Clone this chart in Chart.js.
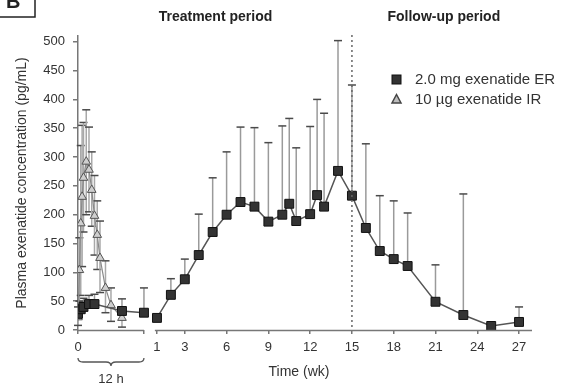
<!DOCTYPE html>
<html>
<head>
<meta charset="utf-8">
<script src="https://cdn.jsdelivr.net/npm/chart.js@4.4.1/dist/chart.umd.min.js"></script>
<style>
    body { margin: 0; background: #fff; }
    #wrap { position: relative; width: 568px; height: 392px; }
</style>
</head>
<body>
<div id="wrap"><canvas id="pkChart"></canvas></div>
<script>
// first 12 h after a single dose (hours)
const erHours = [0, 0.5, 1, 2, 3, 8, 12]
const erHourValues = [28, 36, 40, 45, 45, 33, 30]
const erHourUpper = [null, 50, 55, 60, 62, 54, 73]

const irHours = [0, 0.25, 0.5, 0.75, 1, 1.5, 2, 2.5, 3, 3.5, 4, 5, 6, 8]
const irValues = [22, 104, 185, 231, 264, 292, 278, 243, 198, 165, 125, 73, 43, 21]
const irUpper = [40, 160, 320, 355, 360, 382, 352, 309, 268, 224, 189, 120, 73, 40]
const irLower = [8, 50, 60, 110, 170, 200, 205, 180, 130, 105, 65, 30, 15, 5]

// weekly profile (weeks)
const erWeeks = [1, 2, 3, 4, 5, 6, 7, 8, 9, 10, 10.5, 11, 12, 12.5, 13, 14, 15, 16, 17, 18, 19, 21, 23, 25, 27]
const erWeekValues = [21, 61, 88, 130, 170, 200, 222, 214, 188, 200, 219, 189, 201, 234, 214, 276, 233, 177, 137, 123, 111, 49, 26, 7, 14]
const erWeekUpper = [null, 89, 123, 201, 264, 309, 352, 351, 325, 354, 367, 316, 353, 400, 376, 502, 425, 323, 233, 224, 203, 113, 236, null, 40]

// axis ticks
const hourTicks = [0, 12]
const weekTicks = [1, 3, 6, 9, 12, 15, 18, 21, 24, 27]
const yTicks = [0, 50, 100, 150, 200, 250, 300, 350, 400, 450, 500]
const doseEndWeek = 15

const legendLabels = ["2.0 mg exenatide ER", "10 \u00b5g exenatide IR"]
const periodLabels = ["Treatment period", "Follow-up period"]

Chart.defaults.font.family = '"Liberation Sans", Arial, sans-serif'
Chart.defaults.color = "#333"

const toPoints = (xs, ys) => xs.map((x, i) => ({ x: x, y: ys[i] }))

// error bars, drawn under the markers
const errorBars = {
    id: "errorBars",
    beforeDatasetsDraw(chart) {
        const ctx = chart.ctx
        chart.data.datasets.forEach((ds, i) => {
            if (!ds.upper) return
            const meta = chart.getDatasetMeta(i)
            const xs = meta.xScale
            const ys = meta.yScale
            ds.data.forEach((p, j) => {
                const x = xs.getPixelForValue(p.x)
                const yMid = ys.getPixelForValue(p.y)
                const hi = ds.upper[j]
                const lo = ds.lower ? ds.lower[j] : null
                ctx.save()
                ctx.lineWidth = 1.5
                ;[hi, lo].forEach((v) => {
                    if (v == null) return
                    const yEnd = ys.getPixelForValue(v)
                    ctx.strokeStyle = ds.barColor
                    ctx.beginPath()
                    ctx.moveTo(x, yMid)
                    ctx.lineTo(x, yEnd)
                    ctx.stroke()
                    ctx.strokeStyle = "#4a4a4a"
                    ctx.beginPath()
                    ctx.moveTo(x - 4, yEnd)
                    ctx.lineTo(x + 4, yEnd)
                    ctx.stroke()
                })
                ctx.restore()
            })
        })
    },
}

// broken axis lines, dose line, brace, titles, legend
const decorations = {
    id: "decorations",
    afterDraw(chart) {
        const ctx = chart.ctx
        const h = chart.scales.h
        const w = chart.scales.w
        const area = chart.chartArea
        const axisY = area.bottom + 0.5

        ctx.save()
        ctx.strokeStyle = "#777"
        ctx.lineWidth = 1.5
        ctx.beginPath()
        ctx.moveTo(h.getPixelForValue(0), axisY)
        ctx.lineTo(h.getPixelForValue(12), axisY)
        ctx.moveTo(w.getPixelForValue(0.85), axisY)
        ctx.lineTo(area.right, axisY)
        ctx.stroke()

        // end of dosing
        const xd = w.getPixelForValue(doseEndWeek)
        ctx.strokeStyle = "#666"
        ctx.setLineDash([2, 3])
        ctx.beginPath()
        ctx.moveTo(xd, area.top - 1)
        ctx.lineTo(xd, area.bottom)
        ctx.stroke()
        ctx.setLineDash([])

        // brace under the 12 h segment
        const x0 = h.getPixelForValue(0)
        const x1 = h.getPixelForValue(12)
        const mid = (x0 + x1) / 2
        const b = 358
        ctx.strokeStyle = "#555"
        ctx.lineWidth = 1.3
        ctx.beginPath()
        ctx.moveTo(x0, b)
        ctx.quadraticCurveTo(x0, b + 4, x0 + 5, b + 4)
        ctx.lineTo(mid - 5, b + 4)
        ctx.quadraticCurveTo(mid, b + 4, mid, b + 8)
        ctx.quadraticCurveTo(mid, b + 4, mid + 5, b + 4)
        ctx.lineTo(x1 - 5, b + 4)
        ctx.quadraticCurveTo(x1, b + 4, x1, b)
        ctx.stroke()

        ctx.fillStyle = "#333"
        ctx.textAlign = "center"
        ctx.textBaseline = "middle"
        ctx.font = '13px "Liberation Sans", Arial, sans-serif'
        ctx.fillText("12 h", mid, 379)
        ctx.font = '14px "Liberation Sans", Arial, sans-serif'
        ctx.fillText("Time (wk)", w.getPixelForValue(11.2), 372)

        ctx.font = 'bold 14px "Liberation Sans", Arial, sans-serif'
        ctx.fillStyle = "#222"
        ctx.fillText(periodLabels[0], w.getPixelForValue(5.2), 17)
        ctx.fillText(periodLabels[1], w.getPixelForValue(21.6), 17)

        // panel letter
        ctx.strokeStyle = "#222"
        ctx.lineWidth = 1.5
        ctx.strokeRect(-1, -1, 36, 18)
        ctx.font = 'bold 20px "Liberation Sans", Arial, sans-serif'
        ctx.textAlign = "left"
        ctx.textBaseline = "alphabetic"
        ctx.fillText("B", 6, 8)

        // legend
        ctx.lineWidth = 1
        ctx.fillStyle = "#333"
        ctx.strokeStyle = "#111"
        ctx.fillRect(392, 75, 9, 9)
        ctx.strokeRect(392, 75, 9, 9)
        ctx.fillStyle = "#bdbdbd"
        ctx.strokeStyle = "#444"
        ctx.lineWidth = 1.5
        ctx.beginPath()
        ctx.moveTo(396.5, 94.5)
        ctx.lineTo(401, 103)
        ctx.lineTo(392, 103)
        ctx.closePath()
        ctx.fill()
        ctx.stroke()
        ctx.fillStyle = "#333"
        ctx.font = '15px "Liberation Sans", Arial, sans-serif'
        ctx.textBaseline = "middle"
        ctx.fillText(legendLabels[0], 415, 80)
        ctx.fillText(legendLabels[1], 415, 100)
        ctx.restore()
    },
}

const xTickStyle = {
    font: { size: 13 },
    color: "#333",
    padding: 6,
    maxRotation: 0,
    autoSkip: false,
}
const xGrid = {
    drawOnChartArea: false,
    drawTicks: true,
    tickLength: 4,
    color: "#777",
    lineWidth: 1.5,
}

const pkCtx = document.getElementById("pkChart")
new Chart(pkCtx, {
    type: "line",
    data: {
        datasets: [
            {
                label: legendLabels[0],
                xAxisID: "h",
                data: toPoints(erHours, erHourValues),
                upper: erHourUpper,
                barColor: "#9a9a9a",
                borderColor: "#555",
                borderWidth: 1.5,
                pointStyle: "rect",
                pointRadius: 6.3,
                pointBackgroundColor: "#333",
                pointBorderColor: "#111",
                pointBorderWidth: 1,
            },
            {
                label: legendLabels[1],
                xAxisID: "h",
                data: toPoints(irHours, irValues),
                upper: irUpper,
                lower: irLower,
                barColor: "#a8a8a8",
                borderColor: "#8a8a8a",
                borderWidth: 1.2,
                pointStyle: "triangle",
                pointRadius: 5,
                pointBackgroundColor: "#cfcfcf",
                pointBorderColor: "#555",
                pointBorderWidth: 1,
            },
            {
                label: legendLabels[0],
                xAxisID: "w",
                data: toPoints(erWeeks, erWeekValues),
                upper: erWeekUpper,
                barColor: "#9a9a9a",
                borderColor: "#555",
                borderWidth: 1.5,
                pointStyle: "rect",
                pointRadius: 6.3,
                pointBackgroundColor: "#333",
                pointBorderColor: "#111",
                pointBorderWidth: 1,
            },
        ],
    },
    options: {
        responsive: true,
        maintainAspectRatio: false,
        animation: false,
        layout: { padding: { top: 36, right: 36, bottom: 0, left: 0 } },
        plugins: {
            legend: { display: false },
            tooltip: { enabled: false },
        },
        scales: {
            h: {
                type: "linear",
                position: "bottom",
                stack: "time",
                stackWeight: 72,
                min: 0,
                max: 13.1,
                afterBuildTicks: (s) => {
                    s.ticks = hourTicks.map((v) => ({ value: v }))
                },
                afterFit: (s) => {
                    s.height = 62
                },
                ticks: {
                    ...xTickStyle,
                    callback: (v) => (v === 0 ? "0" : ""),
                },
                grid: xGrid,
                border: { display: false },
            },
            w: {
                type: "linear",
                position: "bottom",
                stack: "time",
                stackWeight: 382,
                min: 0.5,
                max: 27.93,
                afterBuildTicks: (s) => {
                    s.ticks = weekTicks.map((v) => ({ value: v }))
                },
                afterFit: (s) => {
                    s.height = 62
                },
                ticks: xTickStyle,
                grid: xGrid,
                border: { display: false },
            },
            y: {
                type: "linear",
                position: "left",
                min: 0,
                max: 510,
                afterBuildTicks: (s) => {
                    s.ticks = yTicks.map((v) => ({ value: v }))
                },
                afterFit: (s) => {
                    s.width = 78
                },
                ticks: { font: { size: 13 }, color: "#333", padding: 8 },
                grid: {
                    drawOnChartArea: false,
                    tickLength: 5,
                    color: "#777",
                    lineWidth: 1.5,
                },
                border: { display: true, color: "#777", width: 1.5 },
                title: {
                    display: true,
                    text: "Plasma exenatide concentration (pg/mL)",
                    font: { size: 14 },
                    color: "#333",
                    padding: { top: 14, bottom: 0 },
                },
            },
        },
    },
    plugins: [errorBars, decorations],
})
</script>
</body>
</html>
